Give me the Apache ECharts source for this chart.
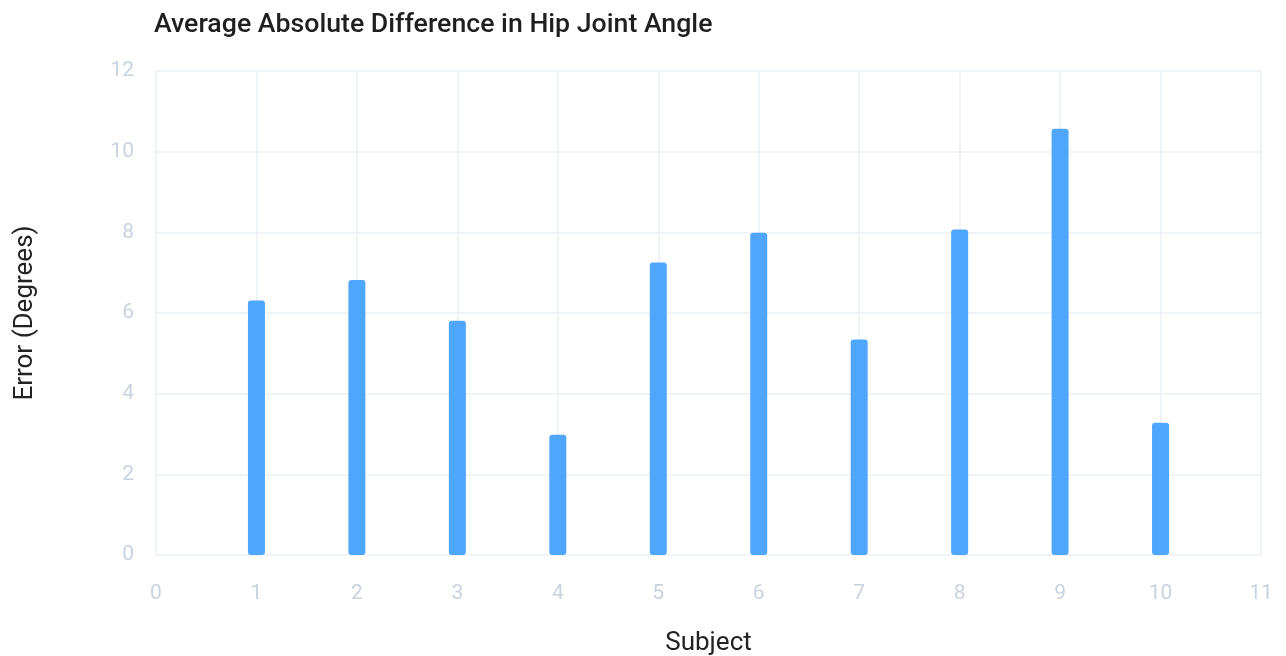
<!DOCTYPE html>
<html>
<head>
<meta charset="utf-8">
<script src="https://cdn.jsdelivr.net/npm/echarts@6/dist/echarts.min.js"></script>
<style>
    html, body { margin: 0; padding: 0; background: #fff; }
    #chart { width: 1286px; height: 656px; }
</style>
</head>
<body>
<div id="chart"></div>
<script>
// subject numbers and mean error per subject
const subjects = [1, 2, 3, 4, 5, 6, 7, 8, 9, 10]
const errors = [6.31, 6.82, 5.81, 2.98, 7.25, 7.99, 5.34, 8.07, 10.57, 3.28]

const chart = echarts.init(document.getElementById('chart'))
chart.setOption({
    backgroundColor: '#fff',
    textStyle: { fontFamily: 'Roboto' },
    title: {
        text: 'Average Absolute Difference in Hip Joint Angle',
        left: 149,
        top: 7,
        textStyle: {
            fontFamily: 'Roboto',
            fontSize: 26.7,
            fontWeight: 500,
            color: '#1f1f1f'
        }
    },
    grid: {
        left: 156,
        right: 25,
        top: 71,
        bottom: 101,
        outerBoundsMode: 'none'
    },
    xAxis: {
        type: 'value',
        min: 0,
        max: 11,
        interval: 1,
        name: 'Subject',
        nameLocation: 'middle',
        nameGap: 75,
        nameTextStyle: { fontSize: 26, color: '#222' },
        axisLine: { show: false },
        axisTick: { show: false },
        axisLabel: { fontSize: 21, color: '#c9d3e0', margin: 28 },
        splitLine: { show: true, lineStyle: { color: '#edf0f5', width: 1.5 } }
    },
    yAxis: {
        type: 'value',
        min: 0,
        max: 12,
        interval: 2,
        name: 'Error (Degrees)',
        nameLocation: 'middle',
        nameGap: 118,
        nameRotate: 90,
        nameTextStyle: { fontSize: 26, color: '#222' },
        axisLine: { show: false },
        axisTick: { show: false },
        axisLabel: { fontSize: 21, color: '#c9d3e0', margin: 22 },
        splitLine: { show: true, lineStyle: { color: '#edf0f5', width: 1.5 } }
    },
    series: [
        {
            type: 'bar',
            barWidth: 17,
            data: subjects.map((s, i) => [s, errors[i]]),
            itemStyle: {
                color: '#4ea6fd',
                borderRadius: 3
            }
        }
    ]
})
</script>
</body>
</html>
